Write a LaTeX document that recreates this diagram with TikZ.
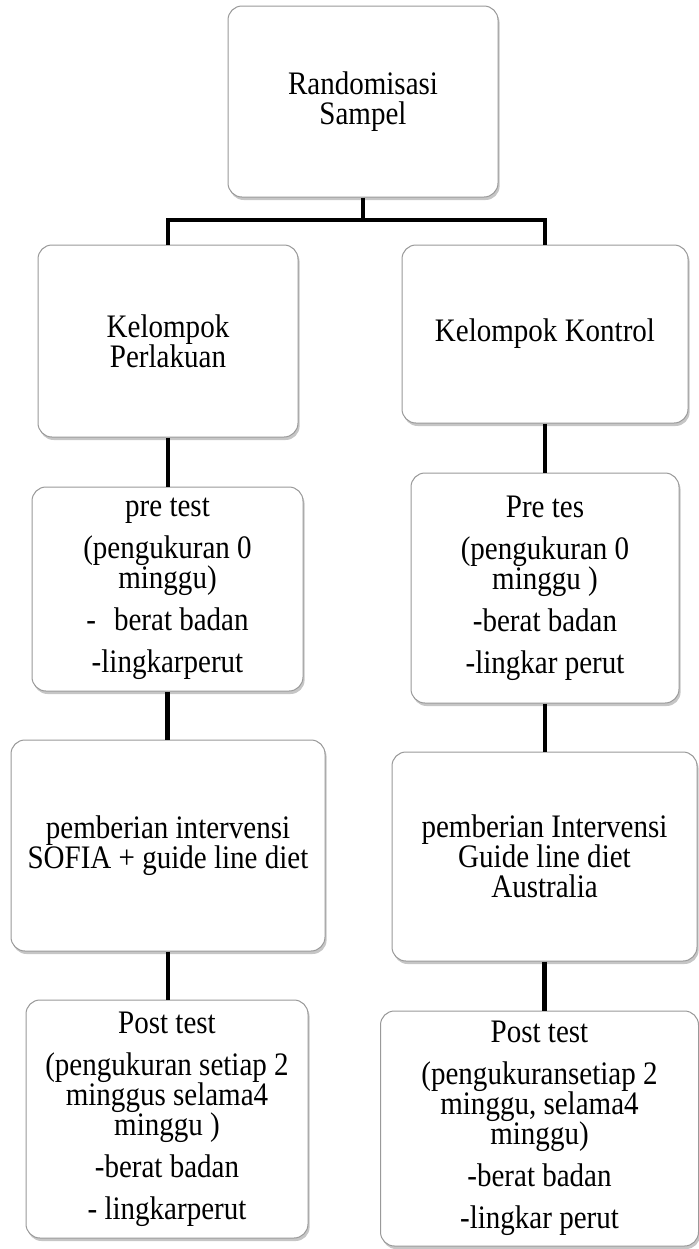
\documentclass[tikz,border=0pt]{standalone}
\usepackage{fontspec}
\setmainfont[FakeStretch=0.885]{Liberation Serif}
\usetikzlibrary{shadows}

\begin{document}
\begin{tikzpicture}
[   x=0.5pt, y=-0.5pt,
    box/.style 2 args={draw=black!40,line width=0.5pt,fill=white,rounded corners=7pt,
        align=center,inner sep=0pt,minimum width=#1*0.5pt,minimum height=#2*0.5pt,
        font=\fontsize{16.4}{15}\selectfont,
        drop shadow={shadow xshift=0.8pt,shadow yshift=-1.5pt,opacity=0.45}},
    conn/.style={line width=2.3pt},
]
    \useasboundingbox (0,0) rectangle (699,1249);
    %
    \node[box={270}{191}] (rand) at (363,101.5) {Randomisasi\\Sampel};
    \coordinate (split) at (363,220);

    % kelompok perlakuan
    \node[box={260}{192}] (p-1) at (168,341) {Kelompok\\Perlakuan};
    \node[box={271}{204}] (p-2) at (167.5,589) {pre test\\[6pt](pengukuran 0\\minggu)\\[6pt]-\hspace{0.55em}berat badan\\[6pt]-lingkarperut};
    \node[box={314}{211}] (p-3) at (168,845.5) {pemberian intervensi\\SOFIA + guide line diet};
    \node[box={282}{238}] (p-4) at (167,1119) {Post test\\[6pt](pengukuran setiap 2\\minggus selama4\\minggu )\\[6pt]-berat badan\\[6pt]- lingkarperut};

    % kelompok kontrol
    \node[box={286}{178}] (k-1) at (545,334) {Kelompok Kontrol};
    \node[box={268}{230}] (k-2) at (545,588) {Pre tes\\[6pt](pengukuran 0\\minggu )\\[6pt]-berat badan\\[6pt]-lingkar perut};
    \node[box={305}{209}] (k-3) at (544.5,856.5) {pemberian Intervensi\\Guide line diet\\Australia};
    \node[box={318}{235}] (k-4) at (539.5,1128.5) {Post test\\[6pt](pengukuransetiap 2\\minggu, selama4\\minggu)\\[6pt]-berat badan\\[6pt]-lingkar perut};

    \draw[conn] (rand.south) -- (split);
    \draw[conn] (p-1.north) |- (split) -| (k-1.north);
    \foreach \a/\b in {1/2,2/3,3/4}
    {
        \draw[conn] (p-\a.south) -- (p-\a.south |- p-\b.north);
        \draw[conn] (k-\a.south) -- (k-\a.south |- k-\b.north);
    }
\end{tikzpicture}
\end{document}
